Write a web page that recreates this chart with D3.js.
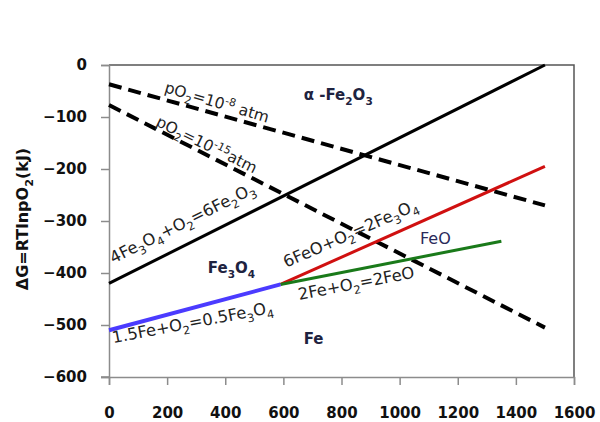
<!DOCTYPE html>
<html>
<head>
<meta charset="utf-8">
<script src="https://cdn.jsdelivr.net/npm/d3@7"></script>
<style>
  html, body { margin: 0; padding: 0; background: #fff; }
  svg { display: block; }
</style>
</head>
<body>
<svg id="chart" width="600" height="422"></svg>
<script>
// ---- data ----
const xTicks = [0, 200, 400, 600, 800, 1000, 1200, 1400, 1600];
const yTicks = [0, -100, -200, -300, -400, -500, -600];

// 4Fe3O4 + O2 = 6Fe2O3
const hematiteT = [0, 1500];
const hematiteG = [-420, 0];
// pO2 = 1e-8 atm
const po2aT = [0, 1500];
const po2aG = [-37, -270];
// pO2 = 1e-15 atm
const po2bT = [0, 1500];
const po2bG = [-77, -505];
// 1.5Fe + O2 = 0.5Fe3O4
const magnetiteT = [0, 590];
const magnetiteG = [-510, -422];
// 6FeO + O2 = 2Fe3O4
const wustiteMagT = [590, 1500];
const wustiteMagG = [-422, -195];
// 2Fe + O2 = 2FeO
const wustiteT = [590, 1350];
const wustiteG = [-422, -339];

// ---- layout ----
const svg = d3.select("#chart");
const L = 109, R = 574, T = 65, B = 377;
const x = d3.scaleLinear().domain([0, 1600]).range([L, R]);
const y = d3.scaleLinear().domain([-600, 0]).range([B, T]);

const tickFont = "'DejaVu Sans', sans-serif";

// plot border (top/right)
svg.append("path")
  .attr("d", `M${L},${T}H${R}V${B}`)
  .attr("fill", "none").attr("stroke", "#555").attr("stroke-width", 1.5);

// y axis
const yAxis = svg.append("g").attr("transform", `translate(${L},0)`)
  .call(d3.axisLeft(y).tickValues(yTicks).tickSize(8).tickPadding(14).tickFormat(d3.format("d")));
// x axis
const xAxis = svg.append("g").attr("transform", `translate(0,${B})`)
  .call(d3.axisBottom(x).tickValues(xTicks).tickSize(8).tickPadding(22).tickFormat(d3.format("d")));

[yAxis, xAxis].forEach(g => {
  g.select(".domain").attr("stroke", "#8c8c8c").attr("stroke-width", 1.5);
  g.selectAll(".tick line").attr("stroke", "#8c8c8c").attr("stroke-width", 1.5);
  g.selectAll(".tick text")
    .attr("font-family", tickFont).attr("font-weight", "bold")
    .attr("font-size", 15).attr("fill", "#111");
});
// bottom axis line extends left to the y tick
svg.append("line").attr("x1", L - 8).attr("x2", L).attr("y1", B).attr("y2", B)
  .attr("stroke", "#8c8c8c").attr("stroke-width", 1.5);

// ---- lines ----
const line = d3.line().x(d => x(d[0])).y(d => y(d[1]));
function drawLine(ts, gs, color, width, dash) {
  const pts = ts.map((t, i) => [t, gs[i]]);
  svg.append("path").datum(pts)
    .attr("d", line)
    .attr("fill", "none")
    .attr("stroke", color)
    .attr("stroke-width", width)
    .attr("stroke-dasharray", dash || null);
}
drawLine(po2aT, po2aG, "#000", 4, "13,7");
drawLine(po2bT, po2bG, "#000", 4, "13,7");
drawLine(hematiteT, hematiteG, "#000", 3);
drawLine(wustiteMagT, wustiteMagG, "#d01010", 3);
drawLine(wustiteT, wustiteG, "#1a7a1a", 3);
drawLine(magnetiteT, magnetiteG, "#4b3bff", 4);

// ---- text helpers ----
// segments: [text, mode] mode: "n" normal, "b" subscript, "p" superscript
function richText(g, segs, size) {
  const t = g.append("text").attr("font-size", size);
  let shift = 0;
  segs.forEach(([s, m]) => {
    let target = m === "b" ? size * 0.3 : m === "p" ? -size * 0.38 : 0;
    t.append("tspan")
      .attr("dy", target - shift)
      .attr("font-size", m === "n" ? size : size * 0.7)
      .text(s);
    shift = target;
  });
  return t;
}
function label(segs, px, py, angle, opts) {
  const o = Object.assign({ size: 15, weight: "normal", color: "#222" }, opts || {});
  const g = svg.append("g")
    .attr("transform", `translate(${px},${py}) rotate(${angle})`)
    .attr("font-family", tickFont)
    .attr("font-weight", o.weight)
    .attr("fill", o.color);
  richText(g, segs, o.size);
}

// labels anchored in data space
label([["pO", "n"], ["2", "b"], ["=10", "n"], ["-8", "p"], [" atm", "n"]],
  x(188), y(-52), 16.5, { size: 15.5 });
label([["pO", "n"], ["2", "b"], ["=10", "n"], ["-15", "p"], ["atm", "n"]],
  x(158), y(-116), 26, { size: 15.5 });
label([["4Fe", "n"], ["3", "b"], ["O", "n"], ["4", "b"], ["+O", "n"], ["2", "b"], ["=6Fe", "n"], ["2", "b"], ["O", "n"], ["3", "b"]],
  x(15), y(-382), -26.5, { size: 16.3 });
label([["1.5Fe+O", "n"], ["2", "b"], ["=0.5Fe", "n"], ["3", "b"], ["O", "n"], ["4", "b"]],
  x(15), y(-535), -10.8, { size: 16.3 });
label([["6FeO+O", "n"], ["2", "b"], ["=2Fe", "n"], ["3", "b"], ["O", "n"], ["4", "b"]],
  x(610), y(-390), -23.8, { size: 16.3 });
label([["2Fe+O", "n"], ["2", "b"], ["=2FeO", "n"]],
  x(655), y(-452), -11, { size: 16.3 });

label([["α -Fe", "n"], ["2", "b"], ["O", "n"], ["3", "b"]],
  x(670), y(-68), 0, { size: 15, weight: "bold", color: "#1e2340" });
label([["Fe", "n"], ["3", "b"], ["O", "n"], ["4", "b"]],
  x(340), y(-400), 0, { size: 15, weight: "bold", color: "#1e2340" });
label([["Fe", "n"]],
  x(670), y(-537), 0, { size: 15, weight: "bold", color: "#1e2340" });
label([["FeO", "n"]],
  x(1070), y(-345), 0, { size: 16, color: "#2a2a5a" });

// y axis title
const yt = svg.append("g")
  .attr("transform", `translate(28,${(T + B) / 2 - 2}) rotate(-90)`)
  .attr("font-family", tickFont).attr("font-weight", "bold").attr("fill", "#111");
const ytt = richText(yt, [["ΔG=RTlnpO", "n"], ["2", "b"], ["(kJ)", "n"]], 16);
ytt.attr("text-anchor", "middle");
</script>
</body>
</html>
